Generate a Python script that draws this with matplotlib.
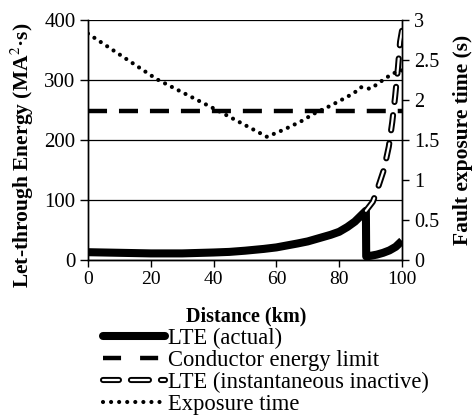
import matplotlib
matplotlib.use("Agg")
import matplotlib.pyplot as plt
from matplotlib.lines import Line2D
from matplotlib.legend_handler import HandlerTuple

plt.rcParams['font.family'] = ['Liberation Serif', 'DejaVu Serif']
plt.rcParams['lines.scale_dashes'] = False
plt.rcParams['mathtext.fontset'] = 'stix'

# ---- data ----
lte_x = [0, 10, 20, 30, 40, 45, 50, 56, 60, 66.7, 70, 77.3, 80, 82.6, 85, 88.5,
         88.6, 90, 92, 94, 96, 98, 100]
lte_y = [13, 12, 11, 11, 12.5, 13.5, 15.5, 18.5, 21, 27.5, 31, 42, 47, 55, 64, 82,
         6, 7, 9, 12, 16, 22, 32]

limit_x = [0, 100]
limit_y = [249, 249]

inact_x = [88.5, 90.7, 91.8, 94.2, 95.8, 96.9, 97.8, 98.7, 99.4, 100]
inact_y = [82, 97, 112, 150, 189, 230, 272, 320, 364, 382]

exp_x = [0, 10, 21.9, 41, 57, 62.4, 67.7, 72, 77.3, 82.1, 84.8, 86.9, 89.9, 92.2, 94.3, 97, 100]
exp_t = [2.83, 2.57, 2.26, 1.875, 1.54, 1.63, 1.73, 1.83, 1.93, 2.03, 2.09, 2.16, 2.14, 2.20, 2.26, 2.33, 2.37]

x_ticks = [0, 20, 40, 60, 80, 100]
y_ticks = [0, 100, 200, 300, 400]
y2_ticks = [0, 0.5, 1, 1.5, 2, 2.5, 3]
y2_labels = ['0', '0.5', '1', '1.5', '2', '2.5', '3']

labels = ['LTE (actual)', 'Conductor energy limit',
          'LTE (instantaneous inactive)', 'Exposure time']

W, H = 475, 416
fig = plt.figure(figsize=(W / 100, H / 100), dpi=100)
L, R, T, B = 88, 402, 20, 260
ax = fig.add_axes([L / W, 1 - B / H, (R - L) / W, (B - T) / H])
ax2 = ax.twinx()

ax.set_xlim(0, 100)
ax.set_ylim(0, 400)
ax2.set_ylim(0, 3)

ax.set_xticks(x_ticks)
ax.set_yticks(y_ticks)
ax2.set_yticks(y2_ticks)
ax2.set_yticklabels(y2_labels)

ax.yaxis.grid(True, color='black', lw=0.9)
ax.set_axisbelow(True)
for a in (ax, ax2):
    a.spines['top'].set_visible(False)
    for s in ('left', 'right', 'bottom'):
        a.spines[s].set_linewidth(1.0)
ax.tick_params(axis='x', direction='out', length=5, width=1, labelsize=14, pad=3)
ax.tick_params(axis='y', direction='out', length=6, width=1, labelsize=15, pad=3)
ax2.tick_params(axis='y', direction='out', length=5, width=1, labelsize=14.5, pad=4)

# line styles
ACT = dict(color='black', lw=5.8)
LIM = dict(color='black', lw=3.2, dash_capstyle='butt')
IN_OUT = dict(color='black', lw=4.4, dash_capstyle='round')
IN_IN = dict(color='white', lw=1.6, dash_capstyle='round')
EXP = dict(color='black', lw=3.0, dash_capstyle='round')

ax.plot(lte_x, lte_y, solid_capstyle='butt', zorder=5, **ACT)
ax.plot(limit_x, limit_y, linestyle=(0, (13.7, 8.6)), zorder=4, **LIM)
ax.plot(inact_x, inact_y, linestyle=(0, (11.0, 9.5)), zorder=6, **IN_OUT)
ax.plot(inact_x, inact_y, linestyle=(0, (11.0, 9.5)), zorder=7, **IN_IN)
ax2.plot(exp_x, exp_t, linestyle=(0, (0.01, 5.5)), zorder=3, **EXP)

fig.text(22 / W, 1 - 155 / H, 'Let-through Energy (MA$^2$·s)', rotation=90,
         ha='center', va='center', fontsize=15.5, fontweight='bold')
fig.text(463 / W, 1 - 140 / H, 'Fault exposure time (s)', rotation=90,
         ha='center', va='center', fontsize=15.5, fontweight='bold')
fig.text(246 / W, 1 - 316 / H, 'Distance (km)', ha='center', va='center',
         fontsize=14.5, fontweight='bold')

# legend handles
h_act = Line2D([], [], solid_capstyle='round', **ACT)
h_lim = Line2D([], [], linestyle=(0, (13.0, 13.7)), **LIM)
h_in1 = Line2D([], [], linestyle=(1.5, (13.0, 8.6)), **IN_OUT)
h_in2 = Line2D([], [], linestyle=(1.5, (13.0, 8.6)), **IN_IN)
h_exp = Line2D([], [], linestyle=(0, (0.01, 5.8)), **EXP)
fig.legend([h_act, h_lim, (h_in1, h_in2), h_exp], labels,
           loc='upper left', bbox_to_anchor=(103 / W, 1 - 328 / H),
           frameon=False, fontsize=16.3, handlelength=2.75, handletextpad=0.12,
           labelspacing=0.04, borderpad=0, borderaxespad=0,
           handler_map={tuple: HandlerTuple(ndivide=1, pad=0)})

fig.savefig('out.png', dpi=100)
